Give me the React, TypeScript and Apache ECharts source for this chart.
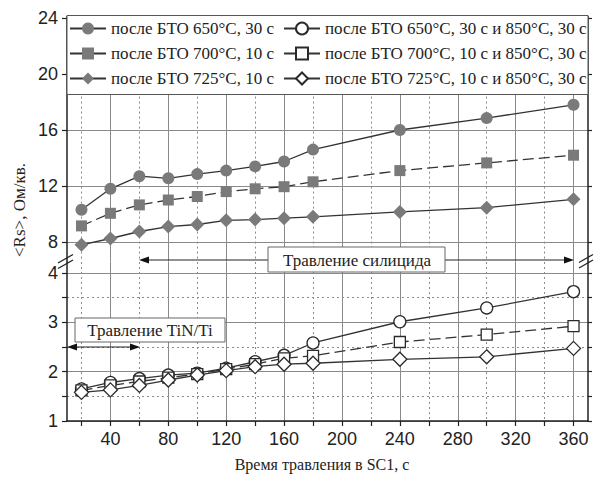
import React, { useEffect, useRef } from "react";
import * as echarts from "echarts";

// ---- data ----
const TIME = [20, 40, 60, 80, 100, 120, 140, 160, 180, 240, 300, 360];
const S650 = [10.3, 11.8, 12.7, 12.55, 12.85, 13.1, 13.4, 13.75, 14.6, 16.0, 16.85, 17.8];
const S700 = [9.15, 10.05, 10.65, 11.0, 11.25, 11.6, 11.8, 11.95, 12.3, 13.1, 13.65, 14.2];
const S725 = [7.8, 8.25, 8.75, 9.1, 9.25, 9.55, 9.6, 9.7, 9.8, 10.15, 10.45, 11.05];
const S650_850 = [1.65, 1.78, 1.86, 1.93, 1.97, 2.07, 2.2, 2.33, 2.58, 3.01, 3.29, 3.62];
const S700_850 = [1.62, 1.72, 1.8, 1.88, 1.95, 2.05, 2.15, 2.27, 2.32, 2.6, 2.75, 2.92];
const S725_850 = [1.58, 1.63, 1.72, 1.83, 1.93, 2.02, 2.1, 2.15, 2.17, 2.25, 2.3, 2.47];

const NAMES = [
  "после БТО 650°C, 30 с",
  "после БТО 650°C, 30 с и 850°C, 30 с",
  "после БТО 700°C, 10 с",
  "после БТО 700°C, 10 с и 850°C, 30 с",
  "после БТО 725°C, 10 с",
  "после БТО 725°C, 10 с и 850°C, 30 с",
];

const X_TICKS = [20, 40, 60, 80, 100, 120, 140, 160, 180, 200, 220, 240, 260, 280, 300, 320, 340, 360];
const X_MAJOR = [40, 80, 120, 160, 200, 240, 280, 320, 360];
const X_MINOR = [20, 60, 100, 140, 180, 220, 260, 300, 340];
const Y_UP_TICKS = [8, 12, 16, 20, 24];
const Y_LOW_TICKS = [1, 1.5, 2, 2.5, 3, 3.5, 4];
const Y_LOW_MAJOR = [1, 2, 3, 4];
const Y_LOW_MINOR = [1.5, 2.5, 3.5];

const Y_AXIS_TITLE = "<Rs>, Ом/кв.";
const X_AXIS_TITLE = "Время травления в SC1, с";
const NOTE_SILICIDE = "Травление силицида";
const NOTE_TIN = "Травление TiN/Ti";

const SERIF = "'Liberation Serif', 'Times New Roman', serif";
const SANS = "'Liberation Sans', Arial, sans-serif";

const pairs = (vals: number[]) => TIME.map((t, i) => [t, vals[i]]);

export default function App() {
  const ref = useRef<HTMLDivElement>(null);
  useEffect(() => {
    if (!ref.current) return;
    const chart = echarts.init(ref.current, null, { renderer: "svg" });
    const axisLine = { show: true, lineStyle: { color: "#222", width: 1.5 } };
    const solid = { show: true, lineStyle: { color: "#8a8a8a", width: 1 } };
    const dotted = { show: true, lineStyle: { color: "#8a8a8a", width: 1, type: [2, 3] } };
    const hiddenX = (grid: number, vals: number[], split: any) => ({
      type: "value", gridIndex: grid, min: 10, max: 370,
      axisLine: { show: false }, axisLabel: { show: false },
      axisTick: { show: false, customValues: vals }, splitLine: split,
    });
    const hiddenY = (grid: number, min: number, max: number, vals: number[], split: any) => ({
      type: "value", gridIndex: grid, min, max,
      axisLine: { show: false }, axisLabel: { show: false },
      axisTick: { show: false, customValues: vals }, splitLine: split,
    });
    const filled = { color: "#7a7a7a", borderWidth: 0 };
    const open = { color: "#ffffff", borderColor: "#2a2a2a", borderWidth: 1.3 };
    const line = (dash?: any) => ({ color: "#333", width: 1.3, type: dash || "solid" });
    const mk = (name: string, vals: number[], up: boolean, symbol: string, size: any, isOpen: boolean, dash?: any) => ({
      name, type: "line", data: pairs(vals),
      xAxisIndex: up ? 0 : 2, yAxisIndex: up ? 0 : 2,
      symbol, symbolSize: size, showAllSymbol: true,
      itemStyle: isOpen ? open : filled, lineStyle: line(dash), z: 3,
    });
    const legendCommon = {
      orient: "vertical", top: 20, itemWidth: 36, itemHeight: 15, itemGap: 8,
      padding: [0, 5, 0, 5],
      textStyle: { fontFamily: SERIF, fontSize: 17, lineHeight: 16, color: "#222" },
      lineStyle: { type: "solid" }, zlevel: 1, z: 20, selectedMode: false,
    };
    const G = (o: any) => ({ zlevel: 1, ...o });
    chart.setOption({
      animation: false,
      backgroundColor: "#fff",
      grid: [
        { left: 67, right: 6, top: 16.6, height: 245 },
        { left: 67, right: 6, top: 262, height: 159 },
      ],
      xAxis: [
        hiddenX(0, X_MAJOR, solid),
        hiddenX(0, X_MINOR, dotted),
        {
          type: "value", gridIndex: 1, min: 10, max: 370,
          axisLine,
          axisTick: { show: true, inside: false, length: 5, customValues: X_TICKS, lineStyle: { color: "#222", width: 1.2 } },
          axisLabel: { show: true, customValues: X_MAJOR, margin: 9, fontFamily: SANS, fontSize: 18, color: "#222" },
          splitLine: { show: false },
        },
        hiddenX(1, X_MAJOR, solid),
        hiddenX(1, X_MINOR, dotted),
      ],
      yAxis: [
        {
          type: "value", gridIndex: 0, min: 6.6, max: 24.1, position: "left",
          axisLine,
          axisTick: { show: true, length: 5, customValues: Y_UP_TICKS, lineStyle: { color: "#222", width: 1.2 } },
          axisLabel: { show: true, customValues: Y_UP_TICKS, margin: 9, fontFamily: SANS, fontSize: 18, color: "#222" },
          splitLine: solid,
        },
        {
          type: "value", gridIndex: 0, min: 6.6, max: 24.1, position: "right",
          axisLine,
          axisTick: { show: true, length: 4, customValues: Y_UP_TICKS, lineStyle: { color: "#222", width: 1.2 } },
          axisLabel: { show: false }, splitLine: { show: false },
        },
        {
          type: "value", gridIndex: 1, min: 1, max: 4.22, position: "left",
          axisLine,
          axisTick: { show: true, length: 5, customValues: Y_LOW_TICKS, lineStyle: { color: "#222", width: 1.2 } },
          axisLabel: { show: true, customValues: Y_LOW_MAJOR, margin: 9, fontFamily: SANS, fontSize: 18, color: "#222" },
          splitLine: { show: false },
        },
        {
          type: "value", gridIndex: 1, min: 1, max: 4.22, position: "right",
          axisLine,
          axisTick: { show: true, length: 4, customValues: Y_LOW_TICKS, lineStyle: { color: "#222", width: 1.2 } },
          axisLabel: { show: false }, splitLine: { show: false },
        },
        hiddenY(1, 1, 4.22, Y_LOW_MAJOR, solid),
        hiddenY(1, 1, 4.22, Y_LOW_MINOR, dotted),
      ],
      legend: [
        { ...legendCommon, left: 64, data: [NAMES[0], NAMES[2], NAMES[4]] },
        { ...legendCommon, left: 278, data: [NAMES[1], NAMES[3], NAMES[5]] },
      ],
      series: [
        mk(NAMES[0], S650, true, "circle", 12, false),
        mk(NAMES[2], S700, true, "rect", 11, false, [11, 5]),
        mk(NAMES[4], S725, true, "diamond", 14, false),
        mk(NAMES[1], S650_850, false, "circle", 12, true),
        mk(NAMES[3], S700_850, false, "rect", 11, true, [11, 5]),
        mk(NAMES[5], S725_850, false, "diamond", 14, true),
      ],
      graphic: {
        zlevel: 1,
        z: 10,
        elements: [
          // legend box
          G({ type: "rect", z: 10, shape: { x: 67, y: 15.5, width: 521, height: 79 }, style: { fill: "#fff", stroke: "#555", lineWidth: 1 } }),
          // silicide arrow
          G({ type: "line", z: 8, shape: { x1: 146, y1: 260, x2: 567, y2: 260 }, style: { stroke: "#222", lineWidth: 1 } }),
          G({ type: "polygon", z: 8, shape: { points: [[139, 260], [149, 256.5], [149, 263.5]] }, style: { fill: "#111" } }),
          G({ type: "polygon", z: 8, shape: { points: [[574, 260], [564, 256.5], [564, 263.5]] }, style: { fill: "#111" } }),
          G({ type: "rect", z: 10, shape: { x: 268, y: 247, width: 177, height: 25 }, style: { fill: "#fff", stroke: "#666", lineWidth: 1 } }),
          G({ type: "text", z: 11, x: 357, y: 260, style: { text: NOTE_SILICIDE, font: `17px ${SERIF}`, fill: "#222", textAlign: "center", textVerticalAlign: "middle" } }),
          // TiN arrow
          G({ type: "line", z: 8, shape: { x1: 72, y1: 347, x2: 134, y2: 347 }, style: { stroke: "#222", lineWidth: 1 } }),
          G({ type: "polygon", z: 8, shape: { points: [[67, 347], [77, 343.5], [77, 350.5]] }, style: { fill: "#111" } }),
          G({ type: "polygon", z: 8, shape: { points: [[140, 347], [130, 343.5], [130, 350.5]] }, style: { fill: "#111" } }),
          G({ type: "rect", z: 10, shape: { x: 75, y: 318, width: 150, height: 24 }, style: { fill: "#fff", stroke: "#666", lineWidth: 1 } }),
          G({ type: "text", z: 11, x: 150, y: 330, style: { text: NOTE_TIN, font: `17px ${SERIF}`, fill: "#222", textAlign: "center", textVerticalAlign: "middle" } }),
          // break marks
          G({ type: "line", z: 12, shape: { x1: 58, y1: 263, x2: 73, y2: 254.5 }, style: { stroke: "#222", lineWidth: 1.3 } }),
          G({ type: "line", z: 12, shape: { x1: 58, y1: 268.5, x2: 73, y2: 260 }, style: { stroke: "#222", lineWidth: 1.3 } }),
          G({ type: "line", z: 12, shape: { x1: 579, y1: 262.5, x2: 593, y2: 254.5 }, style: { stroke: "#222", lineWidth: 1.3 } }),
          G({ type: "line", z: 12, shape: { x1: 579, y1: 268, x2: 593, y2: 260 }, style: { stroke: "#222", lineWidth: 1.3 } }),
          // axis titles
          G({ type: "text", z: 11, x: 19, y: 210, rotation: Math.PI / 2, style: { text: Y_AXIS_TITLE, font: `17px ${SERIF}`, fill: "#222", textAlign: "center", textVerticalAlign: "middle" } }),
          G({ type: "text", z: 11, x: 322, y: 464, style: { text: X_AXIS_TITLE, font: `16px ${SERIF}`, fill: "#222", textAlign: "center", textVerticalAlign: "middle" } }),
        ],
      },
    });
    return () => chart.dispose();
  }, []);
  return <div ref={ref} style={{ position: "fixed", left: 0, top: 0, width: 594, height: 482 }} />;
}
